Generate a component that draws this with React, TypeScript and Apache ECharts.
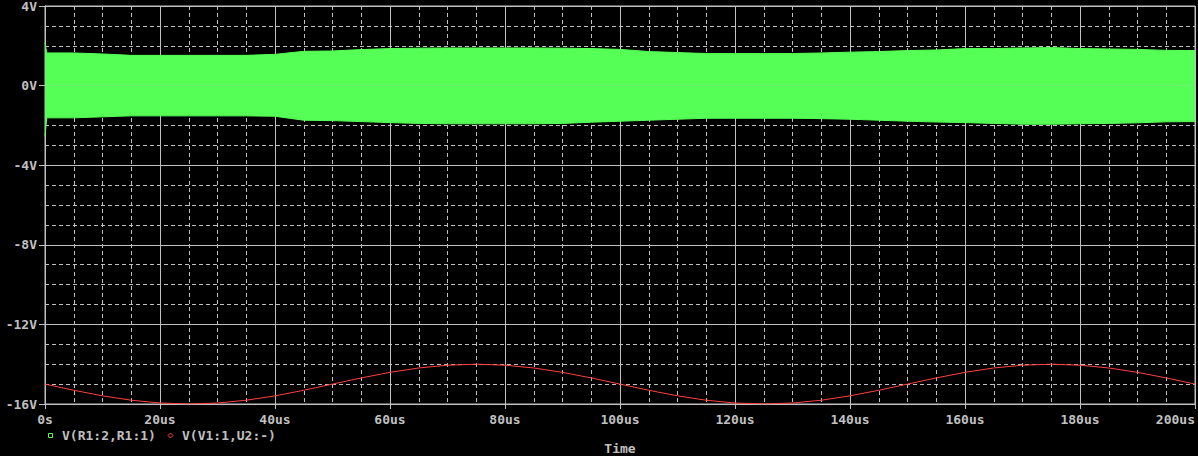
import React, { useEffect, useRef } from "react";
import * as echarts from "echarts";

// Time axis (us) for the green envelope
const greenTime = [0, 0.3, 5, 10, 15, 20, 25, 30, 35, 40, 45, 50, 55, 60, 65, 70, 75, 80, 85, 90, 95, 100,
  105, 110, 115, 120, 125, 130, 135, 140, 145, 150, 155, 160, 165, 170, 175, 180, 185, 190, 195, 200];
// Upper envelope of V(R1:2,R1:1) (V)
const greenUpper = [2.16, 1.64, 1.64, 1.59, 1.52, 1.52, 1.52, 1.52, 1.52, 1.57, 1.72, 1.74, 1.81, 1.86, 1.88, 1.89, 1.89, 1.89, 1.89, 1.88, 1.86, 1.82,
  1.71, 1.66, 1.61, 1.61, 1.61, 1.61, 1.64, 1.68, 1.71, 1.76, 1.79, 1.86, 1.86, 1.89, 1.91, 1.86, 1.84, 1.82, 1.77, 1.76];
// Lower envelope of V(R1:2,R1:1) (V)
const greenLower = [-2.56, -1.62, -1.62, -1.57, -1.52, -1.52, -1.52, -1.52, -1.52, -1.54, -1.74, -1.76, -1.81, -1.86, -1.90, -1.92, -1.92, -1.92, -1.92, -1.90, -1.84, -1.79,
  -1.74, -1.69, -1.64, -1.64, -1.64, -1.64, -1.66, -1.69, -1.74, -1.79, -1.83, -1.86, -1.90, -1.94, -1.94, -1.92, -1.90, -1.87, -1.82, -1.81];

// V(V1:1,U2:-)
const redTime = [0, 5, 10, 15, 20, 25, 30, 35, 40, 45, 50, 55, 60, 65, 70, 75, 80, 85, 90, 95, 100,
  105, 110, 115, 120, 125, 130, 135, 140, 145, 150, 155, 160, 165, 170, 175, 180, 185, 190, 195, 200];
const redValues = [-15.0, -15.31, -15.59, -15.81, -15.95, -16.0, -15.95, -15.81, -15.59, -15.31, -15.0, -14.69, -14.41, -14.19, -14.05, -14.0, -14.05, -14.19, -14.41, -14.69, -15.0,
  -15.31, -15.59, -15.81, -15.95, -16.0, -15.95, -15.81, -15.59, -15.31, -15.0, -14.69, -14.41, -14.19, -14.05, -14.0, -14.05, -14.19, -14.41, -14.69, -15.0];

const seriesNames = ["V(R1:2,R1:1)", "V(V1:1,U2:-)"];
const xAxisTitle = "Time";

const GRAY = "#c0c0c0";
const GREEN = "#55ff55";
const RED = "#ff4040";
const FONT = "DejaVu Sans Mono";
const WEIGHT = "bold";

export default function App() {
  const ref = useRef<HTMLDivElement>(null);
  useEffect(() => {
    if (!ref.current) return;
    const chart = echarts.init(ref.current, undefined, { renderer: "svg" });
    const upper = greenTime.map((t, i) => [t, greenUpper[i]]);
    const lower = greenTime.map((t, i) => [t, greenLower[i]]);
    const red = redTime.map((t, i) => [t, redValues[i]]);
    chart.setOption({
      animation: false,
      backgroundColor: "#000000",
      grid: {
        left: 45, right: 3, top: 6, bottom: 52,
        containLabel: false, outerBoundsMode: "none",
        show: true, borderColor: GRAY, borderWidth: 1, backgroundColor: "transparent",
      },
      xAxis: {
        type: "value",
        min: 0,
        max: 200,
        interval: 20,
        name: xAxisTitle,
        nameLocation: "middle",
        nameGap: 38,
        nameTextStyle: { color: GRAY, fontFamily: FONT, fontSize: 13, fontWeight: WEIGHT },
        axisLine: { show: true, onZero: false, lineStyle: { color: GRAY, width: 1 } },
        axisTick: { show: true, length: 5, lineStyle: { color: GRAY } },
        axisLabel: {
          color: GRAY, fontFamily: FONT, fontSize: 13, fontWeight: WEIGHT, margin: 9,
          alignMaxLabel: "right",
          formatter: (v: number) => (v === 0 ? "0s" : v + "us"),
        },
        splitLine: { show: true, lineStyle: { color: GRAY, width: 1, type: "solid" } },
        minorTick: { show: false, splitNumber: 4 },
        minorSplitLine: { show: true, lineStyle: { color: GRAY, width: 1, type: [4, 3] } },
      },
      yAxis: {
        type: "value",
        min: -16,
        max: 4,
        interval: 4,
        axisLine: { show: true, lineStyle: { color: GRAY, width: 1 } },
        axisTick: { show: true, length: 6, lineStyle: { color: GRAY } },
        axisLabel: {
          color: GRAY, fontFamily: FONT, fontSize: 13, fontWeight: WEIGHT, margin: 8,
          formatter: (v: number) => v + "V",
        },
        splitLine: { show: true, lineStyle: { color: GRAY, width: 1, type: "solid" } },
        minorTick: { show: false, splitNumber: 4 },
        minorSplitLine: { show: true, lineStyle: { color: GRAY, width: 1, type: [4, 3] } },
      },
      series: [
        {
          name: seriesNames[0],
          type: "line",
          data: upper,
          showSymbol: false,
          lineStyle: { color: GREEN, width: 1 },
          areaStyle: { color: GREEN, opacity: 1, origin: 0 },
          z: 3,
        },
        {
          name: seriesNames[0] + " ",
          type: "line",
          data: lower,
          showSymbol: false,
          lineStyle: { color: GREEN, width: 1 },
          areaStyle: { color: GREEN, opacity: 1, origin: 0 },
          z: 3,
        },
        {
          name: seriesNames[1],
          type: "line",
          data: red,
          showSymbol: false,
          lineStyle: { color: RED, width: 1 },
          z: 4,
        },
      ],
      graphic: [
        { type: "rect", shape: { x: 48.5, y: 433.5, width: 4, height: 4 }, style: { fill: "transparent", stroke: GREEN, lineWidth: 1 } },
        { type: "text", x: 62, y: 435.5, style: { text: seriesNames[0], fill: GRAY, font: `${WEIGHT} 13px "${FONT}"`, verticalAlign: "middle" } },
        { type: "polygon", shape: { points: [[170.5, 433], [173, 435.5], [170.5, 438], [168, 435.5]] }, style: { fill: "transparent", stroke: RED, lineWidth: 1 } },
        { type: "text", x: 182, y: 435.5, style: { text: seriesNames[1], fill: GRAY, font: `${WEIGHT} 13px "${FONT}"`, verticalAlign: "middle" } },
      ],
    });
    return () => chart.dispose();
  }, []);
  return (
    <div
      ref={ref}
      style={{ position: "fixed", left: 0, top: 0, width: 1198, height: 456, background: "#000" }}
    />
  );
}
